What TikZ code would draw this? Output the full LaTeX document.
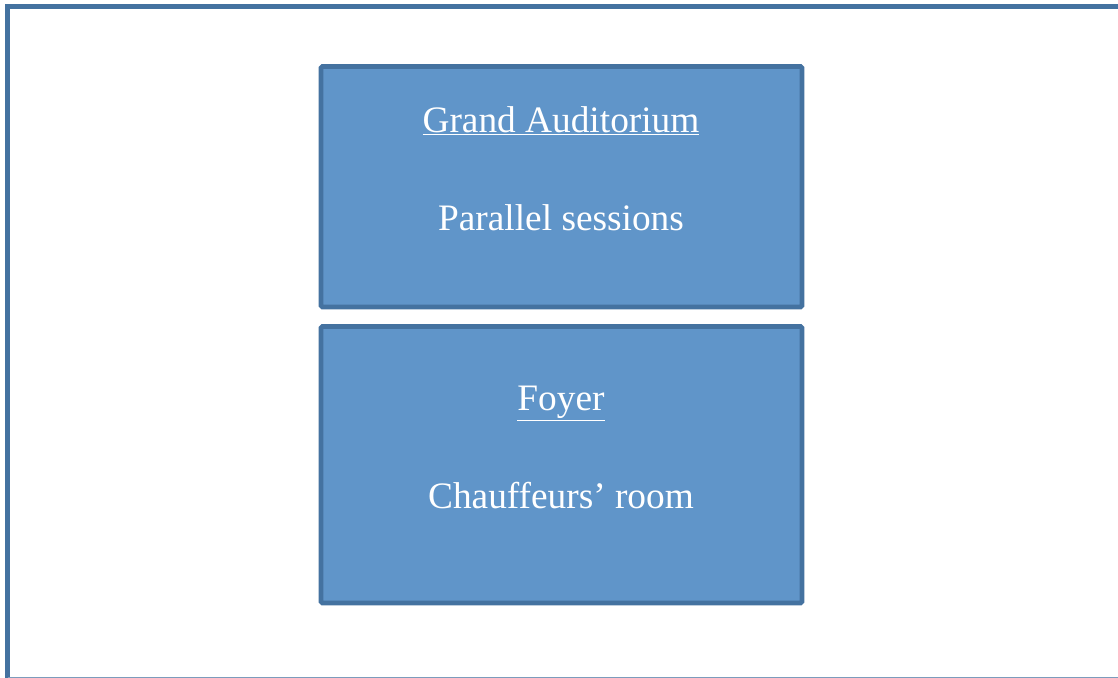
\documentclass[tikz,border=0pt]{standalone}
\usepackage{fontspec}
\setmainfont{Liberation Serif}
\usepackage{tikz}

\definecolor{roomfill}{RGB}{96,149,201}
\definecolor{roomline}{RGB}{68,114,160}
\tikzset{
  roombox/.style={draw=roomline,fill=roomfill,line width=3.5pt,rounded corners=1pt},
  roomtext/.style={anchor=base,inner sep=0.75pt,text=white,font=\fontsize{28}{33}\selectfont}
}

\begin{document}
\begin{tikzpicture}[x=0.75pt,y=0.75pt,yscale=-1,xscale=1]
\useasboundingbox (0,0) rectangle (1118,678);

%Outer frame (top and left edge only)
\draw [roomline,line width=3.75pt]  (1118,6.5) -- (7.5,6.5) -- (7.5,678) ;
%Bottom edge
\draw [roomline!70,line width=0.75pt]  (7.5,677) -- (1118,677) ;

%Shape: Rectangle [auditorium]
\draw [roombox]  (321,66.5) rectangle (802,307) ;
%Shape: Rectangle [foyer]
\draw [roombox]  (321,326.5) rectangle (802,603) ;

% Text Node
\node [roomtext] (grand) at (561,132) {\underline{Grand Auditorium}};
% Text Node
\node [roomtext] (parallel) at (561,230) {Parallel sessions};
% Text Node
\node [roomtext] (foyer) at (561,410) {\underline{Foyer}};
% Text Node
\node [roomtext] (chauffeurs) at (561,508) {Chauffeurs’ room};

\end{tikzpicture}
\end{document}
